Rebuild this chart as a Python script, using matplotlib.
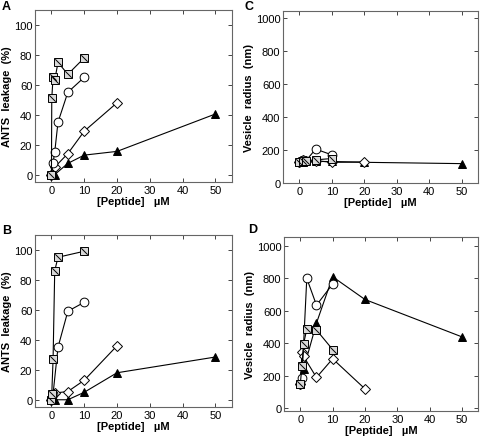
import numpy as np
import matplotlib
matplotlib.use("Agg")
from matplotlib import pyplot as plt
from matplotlib.path import Path

plt.rcParams['font.family'] = ['Liberation Sans', 'DejaVu Sans']

# panel A - ANTS leakage (%)
a_sq_x = [0, 0.1, 0.5, 1, 2, 5, 10]
a_sq_y = [0, 51, 65, 63, 75, 67, 78]
a_ci_x = [0, 0.5, 1, 2, 5, 10]
a_ci_y = [0, 8, 15, 35, 55, 65]
a_di_x = [0, 1, 5, 10, 20]
a_di_y = [0, 5, 14, 29, 48]
a_tr_x = [0, 1, 5, 10, 20, 50]
a_tr_y = [0, 0, 7.5, 13, 15.5, 40.5]

# panel B - ANTS leakage (%)
b_sq_x = [0, 0.1, 0.5, 1, 2, 10]
b_sq_y = [0, 4, 27, 86, 95, 99]
b_ci_x = [0, 0.5, 2, 5, 10]
b_ci_y = [0, 4, 35, 59, 65]
b_di_x = [0, 1, 5, 10, 20]
b_di_y = [0, 4.5, 5.5, 13, 36]
b_tr_x = [0, 1, 5, 10, 20, 50]
b_tr_y = [0, 0, 0, 5, 18, 28.5]

# panel C - vesicle radius (nm)
c_sq_x = [0, 1, 2, 5, 10]
c_sq_y = [125, 130, 135, 140, 148]
c_ci_x = [0, 0.5, 1, 2, 5, 10]
c_ci_y = [125, 130, 140, 135, 205, 170]
c_di_x = [0, 0.5, 1, 2, 5, 10, 20]
c_di_y = [125, 135, 140, 130, 135, 125, 127]
c_tr_x = [0, 1, 5, 10, 20, 50]
c_tr_y = [125, 125, 130, 130, 125, 117]

# panel D - vesicle radius (nm)
d_sq_x = [0, 0.5, 1, 2, 5, 10]
d_sq_y = [150, 260, 395, 488, 482, 362]
d_ci_x = [0, 0.5, 2, 5, 10]
d_ci_y = [150, 185, 800, 635, 765]
d_di_x = [0, 0.5, 1, 5, 10, 20]
d_di_y = [150, 345, 320, 190, 305, 120]
d_tr_x = [0, 1, 5, 10, 20, 50]
d_tr_y = [150, 240, 525, 810, 670, 440]

diag = Path([(-1, 1), (1, -1)], [Path.MOVETO, Path.LINETO])
MS = 5.8


def draw_series(ax, sq, ci, di, tr):
    kw = dict(color='black', lw=0.8, mec='black', mew=0.7, ms=MS)
    ax.plot(tr[0], tr[1], marker='^', mfc='black', **kw)
    ax.plot(di[0], di[1], marker='D', mfc='white', **dict(kw, ms=MS - 1))
    ax.plot(ci[0], ci[1], marker='o', mfc='white', **dict(kw, ms=MS + 0.5))
    ax.plot(sq[0], sq[1], marker='s', mfc='#d8d8d8', **kw)
    ax.plot(sq[0], sq[1], ls='none', marker=diag, ms=MS - 1.2, mec='black', mew=0.7, fillstyle='none')


def style_axes(ax, ylabel, ylim, yticks):
    ax.set_xlim(-5, 55)
    ax.set_ylim(*ylim)
    ax.set_xticks([0, 10, 20, 30, 40, 50])
    ax.set_yticks(yticks)
    ax.tick_params(direction='in', top=True, right=True, labelsize=8, length=3, width=0.7,
                   color='#444444', pad=2)
    for s in ax.spines.values():
        s.set_color('#666666')
        s.set_linewidth(0.8)
    ax.set_xlabel("[Peptide]   \u00b5M", fontsize=8, fontweight='bold', labelpad=1)
    ax.set_ylabel(ylabel, fontsize=8, fontweight='bold', labelpad=1)


fig = plt.figure(figsize=(4.8, 4.39), dpi=100)
axA = fig.add_axes([0.073, 0.583, 0.41, 0.392])
axC = fig.add_axes([0.590, 0.581, 0.406, 0.391])
axB = fig.add_axes([0.073, 0.070, 0.41, 0.393])
axD = fig.add_axes([0.592, 0.062, 0.404, 0.396])

draw_series(axA, (a_sq_x, a_sq_y), (a_ci_x, a_ci_y), (a_di_x, a_di_y), (a_tr_x, a_tr_y))
draw_series(axB, (b_sq_x, b_sq_y), (b_ci_x, b_ci_y), (b_di_x, b_di_y), (b_tr_x, b_tr_y))
draw_series(axC, (c_sq_x, c_sq_y), (c_ci_x, c_ci_y), (c_di_x, c_di_y), (c_tr_x, c_tr_y))
draw_series(axD, (d_sq_x, d_sq_y), (d_ci_x, d_ci_y), (d_di_x, d_di_y), (d_tr_x, d_tr_y))

pct_ticks = [0, 20, 40, 60, 80, 100]
nm_ticks = [0, 200, 400, 600, 800, 1000]
style_axes(axA, "ANTS  leakage  (%)", (-5, 110), pct_ticks)
style_axes(axB, "ANTS  leakage  (%)", (-5, 110), pct_ticks)
style_axes(axC, "Vesicle  radius  (nm)", (0, 1040), nm_ticks)
style_axes(axD, "Vesicle  radius  (nm)", (-15, 1055), nm_ticks)

# panel letters
fig.text(0.004, 0.997, "A", fontsize=9, fontweight='bold', va='top')
fig.text(0.51, 0.997, "C", fontsize=9, fontweight='bold', va='top')
fig.text(0.004, 0.487, "B", fontsize=9, fontweight='bold', va='top')
fig.text(0.517, 0.489, "D", fontsize=9, fontweight='bold', va='top')

plt.savefig("out.png", dpi=100)
